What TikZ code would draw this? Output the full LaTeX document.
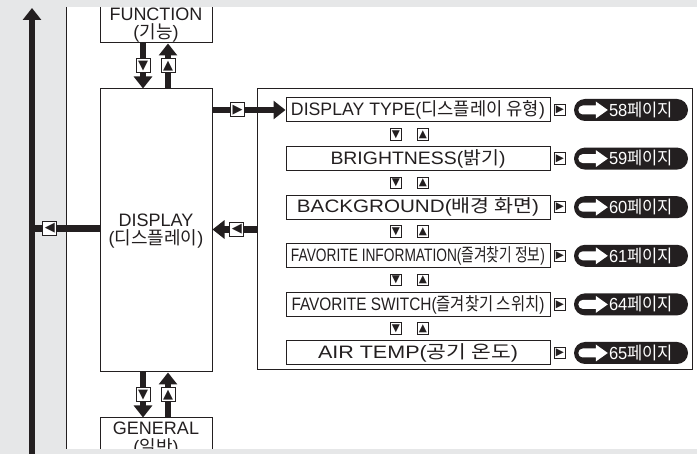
\documentclass[tikz,border=0pt]{standalone}
\usepackage{fontspec}
\usepackage{graphicx}
\setmainfont{Liberation Sans}
\newfontfamily\kr{Noto Sans CJK KR}
\newfontfamily\symf{DejaVu Sans}
\usetikzlibrary{arrows.meta,calc}
\newcommand\hfit[2]{\resizebox{#1}{\height}{#2}}
\definecolor{bgg}{RGB}{230,231,232}
\definecolor{ink}{RGB}{35,31,32}
\begin{document}
\begin{tikzpicture}[x=1pt,y=-1pt,
  box/.style={draw=ink,line width=1pt,fill=white,inner sep=0pt},
  lbl/.style={font=\fontsize{18}{20}\selectfont,text=ink,inner sep=0pt,anchor=base},
  sq/.style={draw=ink,fill=white,line width=1pt,minimum size=14pt,inner sep=0pt,font=\symf\fontsize{13}{13}\selectfont,text=ink},
  ssq/.style={sq,minimum size=11.5pt,line width=0.9pt,font=\symf\fontsize{10.5}{10.5}\selectfont},
  fatarrow/.style={draw=ink,line width=6.5pt,-{Triangle[width=18pt,length=12pt]}},
  fatline/.style={draw=ink,line width=6.5pt},
  item/.style={box,minimum width=264pt,minimum height=24pt,font=\fontsize{18}{20}\selectfont,text=ink},
  pill/.style={fill=ink,rounded corners=11pt,minimum width=114pt,minimum height=22pt,inner sep=0pt},
  pgtext/.style={text=white,font=\fontsize{17.5}{17.5}\selectfont,inner sep=0pt,anchor=base},
]
\useasboundingbox (0,0) rectangle (697,454);
\fill[bgg] (0,0) rectangle (697,454);
\fill[white] (67,7) rectangle (697,449);
\draw[ink,line width=1pt] (66.5,7) -- (66.5,449);

% main boxes
\node[box,minimum width=112pt,minimum height=50pt] (func) at (156,18) {};
\node[lbl] (funcA) at (156,21) {FUNCTION};
\node[lbl] (funcB) at (156,39) {({\kr 기능})};
\node[box,minimum width=112pt,minimum height=283pt] (disp) at (156,230.5) {};
\node[lbl] (dispA) at (156,227) {DISPLAY};
\node[lbl] (dispB) at (156,245) {({\kr 디스플레이})};
\node[box,minimum width=112pt,minimum height=50pt] (gen) at (156,443) {};
\node[lbl] (genA) at (156,435) {GENERAL};
\node[lbl] (genB) at (156,453.5) {({\kr 일반})};

\node[box,minimum width=435pt,minimum height=281pt] (panel) at (474.5,229.5) {};

\foreach \k/\w/\tx/\pg in {1/254/{DISPLAY TYPE({\kr 디스플레이 유형})}/58,
  2/175/{BRIGHTNESS({\kr 밝기})}/59,
  3/242/{BACKGROUND({\kr 배경 화면})}/60,
  4/254/{FAVORITE INFORMATION({\kr 즐겨찾기 정보})}/61,
  5/253/{FAVORITE SWITCH({\kr 즐겨찾기 스위치})}/64,
  6/200/{AIR TEMP({\kr 공기 온도})}/65}{
  \pgfmathsetmacro\yy{110+48.6*(\k-1)}
  \node[item] (i\k) at (418,\yy) {\hfit{\w pt}{\tx}};
  \node[ssq] (r\k) at (560,\yy) {▶};
  \node[pill] (p\k) at (631,\yy) {};
  \begin{scope}[shift={(p\k.west)}]
    \fill[white] (9,-4.5) -- (22,-4.5) -- (22,-8.5) -- (34,0) -- (22,8.5) -- (22,4.5) -- (9,4.5)
      arc[start angle=90,end angle=270,radius=4.5] -- cycle;
  \end{scope}
  \node[pgtext] (t\k) at (641,\yy+6.3) {\hfit{64pt}{\pg{\kr 페이지}}};
}
\foreach \k in {1,...,5}{
  \pgfmathsetmacro\yy{110+48.6*(\k-1)+24.3}
  \node[ssq] (dn\k) at (396,\yy) {▼};
  \node[ssq] (up\k) at (423,\yy) {▲};
}

% connectors
\coordinate (bigtop) at (32,8);
\coordinate (bigbot) at (32,454);
\draw[fatarrow] ([xshift=-13pt]func.south) -- node[sq] (fd) {▼} ([xshift=-13pt]disp.north);
\draw[fatarrow] ([xshift=12pt]disp.north) -- node[sq] (fu) {▲} ([xshift=12pt]func.south);
\draw[fatarrow] ([xshift=-13pt]disp.south) -- node[sq] (gd) {▼} ([xshift=-13pt]gen.north);
\draw[fatarrow] ([xshift=12pt]gen.north) -- node[sq] (gu) {▲} ([xshift=12pt]disp.south);
\draw[fatarrow] (disp.east |- i1.west) -- node[sq,pos=0.345] (rb) {▶} (i1.west);
\draw[fatarrow] (panel.west) -- node[sq,pos=0.444] (bb) {◀} (panel.west -| disp.east);

% bands
\fill[bgg] (67,0) rectangle (697,7);
\fill[bgg] (67,449) rectangle (697,454);

\draw[fatline] ([yshift=2pt]disp.west) -- node[sq,pos=0.735] (lb) {◀} ([yshift=2pt]disp.west -| bigtop);
\draw[fatarrow] (bigbot) -- (bigtop);
\end{tikzpicture}
\end{document}
